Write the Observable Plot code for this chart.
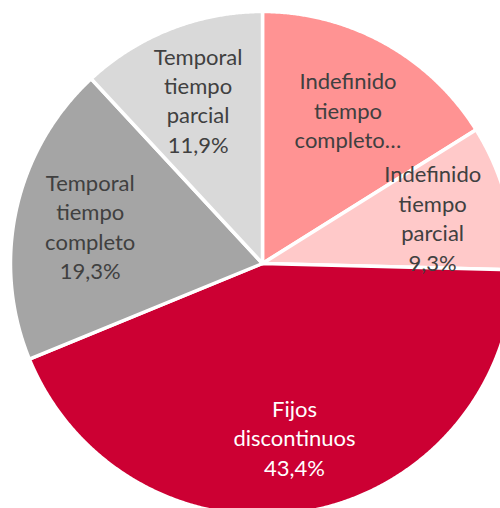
<!DOCTYPE html>
<html><head><meta charset="utf-8">
<script src="https://cdn.jsdelivr.net/npm/d3@7"></script>
<script src="https://cdn.jsdelivr.net/npm/@observablehq/plot@0.6"></script>
<style>html,body{margin:0;padding:0;background:#fff;overflow:hidden}</style>
</head><body><div id="chart"></div>
<script>
const categories = ["Indefinido tiempo completo", "Indefinido tiempo parcial", "Fijos discontinuos", "Temporal tiempo completo", "Temporal tiempo parcial"];
const values = [16.1, 9.3, 43.4, 19.3, 11.9];
const labels = ["Indefinido\ntiempo\ncompleto…", "Indefinido\ntiempo\nparcial\n9,3%", "Fijos\ndiscontinuos\n43,4%", "Temporal\ntiempo\ncompleto\n19,3%", "Temporal\ntiempo\nparcial\n11,9%"];
const colors = ["#FF9393", "#FFC9C9", "#CC0033", "#A5A5A5", "#D9D9D9"];
const labelInk = ["dark", "dark", "light", "dark", "dark"];

const W = 500, H = 508, cx = 262, cy = 263, R = 252;
const arcs = d3.pie().sort(null).value(d => d.value)(categories.map((c, i) => ({name: c, value: values[i], label: labels[i], ink: labelInk[i]})));

const pts = [];
for (const a of arcs) {
  const n = Math.max(2, Math.ceil((a.endAngle - a.startAngle) / 0.005));
  pts.push({name: a.data.name, x: 0, y: 0});
  for (let k = 0; k <= n; k++) {
    const t = a.startAngle + (a.endAngle - a.startAngle) * k / n;
    pts.push({name: a.data.name, x: Math.sin(t), y: Math.cos(t)});
  }
  pts.push({name: a.data.name, x: 0, y: 0});
}
const lf = 0.7;
const labelData = arcs.map(a => {
  const m = (a.startAngle + a.endAngle) / 2;
  return {label: a.data.label, ink: a.data.ink, x: lf * Math.sin(m), y: lf * Math.cos(m)};
});

const chart = Plot.plot({
  width: W, height: H,
  marginTop: 0, marginRight: 0, marginBottom: 0, marginLeft: 0,
  x: {domain: [-cx / R, (W - cx) / R], range: [0, W], axis: null},
  y: {domain: [-(H - cy) / R, cy / R], range: [H, 0], axis: null},
  color: {domain: categories, range: colors},
  style: {fontFamily: "Lato", background: "white"},
  marks: [
    Plot.line(pts, {x: "x", y: "y", z: "name", fill: "name", stroke: "white", strokeWidth: 3.5, clip: true}),
    Plot.text(labelData.filter(d => d.ink === "dark"), {x: "x", y: "y", text: "label", fill: "#404040", fontSize: 22, lineHeight: 1.34}),
    Plot.text(labelData.filter(d => d.ink === "light"), {x: "x", y: "y", text: "label", fill: "#ffffff", fontSize: 22, lineHeight: 1.34})
  ]
});
document.getElementById("chart").appendChild(chart);
</script>
</body></html>
